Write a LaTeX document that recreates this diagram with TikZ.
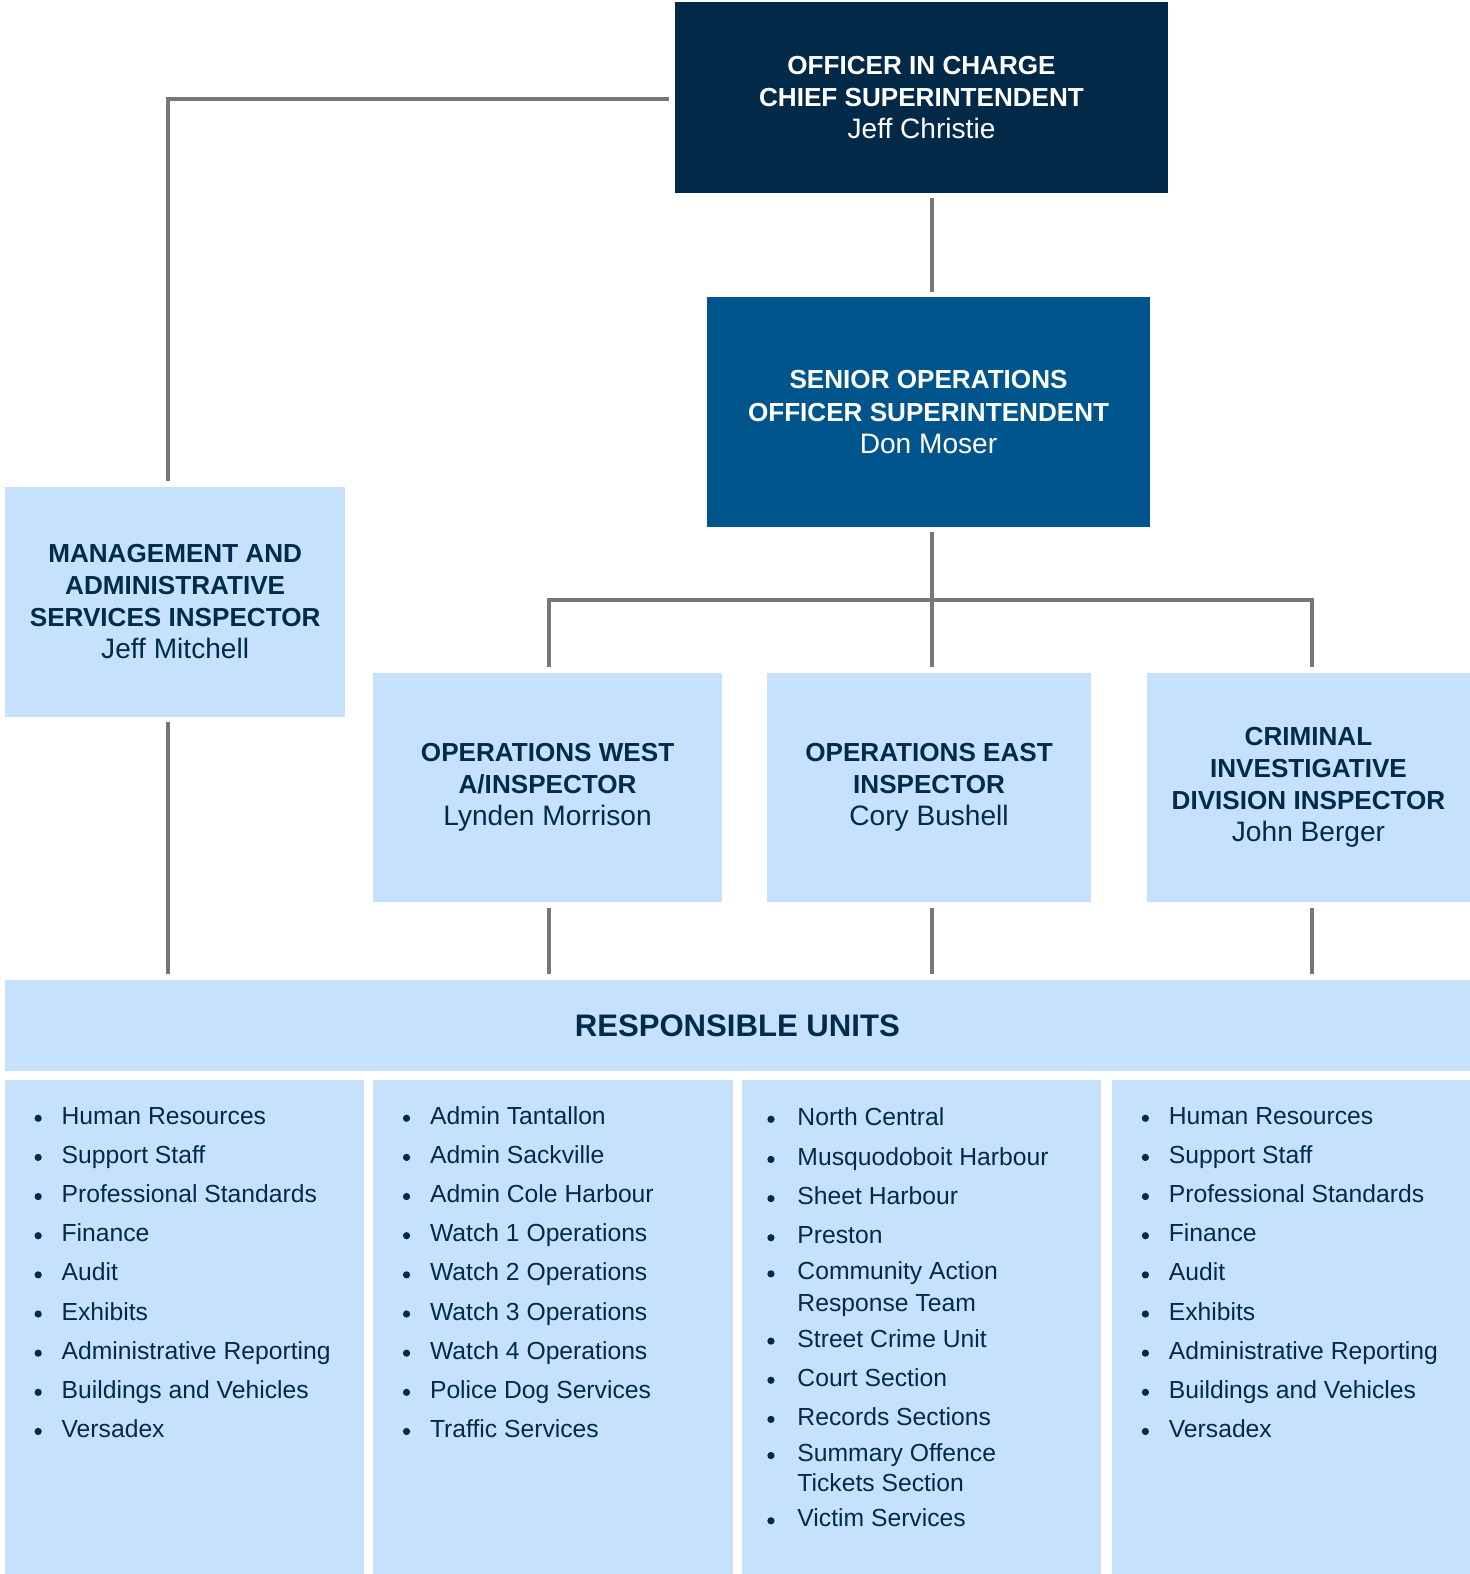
\documentclass[tikz,border=0pt]{standalone}
\usepackage{fontspec}
\setmainfont{Liberation Sans}
\usetikzlibrary{calc}
\definecolor{navy}{HTML}{022A48}
\definecolor{midblue}{HTML}{00558C}
\definecolor{light}{HTML}{C6E1FC}
\definecolor{ink}{HTML}{002B4A}
\definecolor{linegrey}{HTML}{777777}
\tikzset{
  box/.style={rectangle, inner sep=0pt, align=center, font=\fontsize{13pt}{16pt}\selectfont},
  darkbox/.style={box, fill=navy, text=white},
  bluebox/.style={box, fill=midblue, text=white},
  lightbox/.style={box, fill=light, text=ink},
  conn/.style={draw=linegrey, line width=2pt, shorten <=2.5pt, shorten >=2.5pt},
  item/.style={anchor=base west, inner sep=0pt, text=ink, font=\fontsize{12.3pt}{14pt}\selectfont},
  bul/.style={fill=ink}
}
\newcommand{\nm}[1]{{\fontsize{14pt}{16pt}\selectfont #1}}
\begin{document}
\begin{tikzpicture}[x=0.5pt,y=-0.5pt]
\useasboundingbox (0,0) rectangle (1464,1568);
% coordinates for connector columns
\coordinate (xa) at (167,0);
\coordinate (xw) at (547,0);
\coordinate (xs) at (928,0);
\coordinate (xc) at (1307,0);
\coordinate (bar) at (928,598);
% boxes
\node[darkbox, minimum width=246pt, minimum height=95pt] (top) at (918,97)
  {\textbf{OFFICER IN CHARGE}\\\textbf{CHIEF SUPERINTENDENT}\\\nm{Jeff Christie}};
\node[bluebox, minimum width=221pt, minimum height=114.5pt] (senior) at (925,410.5)
  {\textbf{SENIOR OPERATIONS}\\\textbf{OFFICER SUPERINTENDENT}\\\nm{Don Moser}};
\node[lightbox, minimum width=169.5pt, minimum height=114.5pt] (mgmt) at (174.5,599.5)
  {\textbf{MANAGEMENT AND}\\\textbf{ADMINISTRATIVE}\\\textbf{SERVICES INSPECTOR}\\\nm{Jeff Mitchell}};
\node[lightbox, minimum width=173.5pt, minimum height=114.5pt] (west) at (545.5,784.5)
  {\textbf{OPERATIONS WEST}\\\textbf{A/INSPECTOR}\\\nm{Lynden Morrison}};
\node[lightbox, minimum width=161.5pt, minimum height=114.5pt] (east) at (925.5,784.5)
  {\textbf{OPERATIONS EAST}\\\textbf{INSPECTOR}\\\nm{Cory Bushell}};
\node[lightbox, minimum width=160.5pt, minimum height=114.5pt] (cid) at (1303.5,784.5)
  {\textbf{CRIMINAL}\\\textbf{INVESTIGATIVE}\\\textbf{DIVISION INSPECTOR}\\\nm{John Berger}};
\node[lightbox, minimum width=729.5pt, minimum height=45.5pt, font=\fontsize{15.5pt}{18pt}\selectfont\bfseries] (resp) at (734.5,1021.5) {RESPONSIBLE UNITS};
\node[lightbox, minimum width=179pt, minimum height=246pt] (col1) at (184,1322) {};
\node[lightbox, minimum width=179pt, minimum height=246pt] (col2) at (551,1322) {};
\node[lightbox, minimum width=179pt, minimum height=246pt] (col3) at (918,1322) {};
\node[lightbox, minimum width=178pt, minimum height=246pt] (col4) at (1286,1322) {};
% connectors
\draw[conn] ($(top.west)+(0,2)$) -| (mgmt.north -| xa);
\draw[conn] (top.south -| xs) -- (senior.north -| xs);
\draw[conn] (senior.south -| xs) -- (east.north -| xs);
\draw[conn] (west.north -| xw) |- (bar) -| (cid.north -| xc);
\draw[conn] (mgmt.south -| xa) -- (resp.north -| xa);
\draw[conn] (west.south -| xw) -- (resp.north -| xw);
\draw[conn] (east.south -| xs) -- (resp.north -| xs);
\draw[conn] (cid.south -| xc) -- (resp.north -| xc);
% lists
\foreach \y/\t [count=\i] in {1112/Human Resources,1151/Support Staff,1190/Professional Standards,1229/Finance,1268/Audit,1307/Exhibits,1346/Administrative Reporting,1385/Buildings and Vehicles,1424/Versadex}{
  \fill[bul] (38,{\y+2}) circle (1.8pt);
  \node[item] (a\i) at (61,{\y+8}) {\t};
  \fill[bul] (1141,{\y+2}) circle (1.8pt);
  \node[item] (d\i) at (1164,{\y+8}) {\t};
}
\foreach \y/\t [count=\i] in {1112/Admin Tantallon,1151/Admin Sackville,1190/Admin Cole Harbour,1229/Watch 1 Operations,1268/Watch 2 Operations,1307/Watch 3 Operations,1346/Watch 4 Operations,1385/Police Dog Services,1424/Traffic Services}{
  \fill[bul] (405,{\y+2}) circle (1.8pt);
  \node[item] (b\i) at (428,{\y+8}) {\t};
}
\foreach \y/\t [count=\i] in {1113/North Central,1153/Musquodoboit Harbour,1192/Sheet Harbour,1231/Preston,1267/Community Action,1334/Street Crime Unit,1373/Court Section,1412/Records Sections,1448/Summary Offence,1513/Victim Services}{
  \fill[bul] (768,{\y+2}) circle (1.8pt);
  \node[item] (c\i) at (794,{\y+8}) {\t};
}
\node[item] (c5b) at (794,1306) {Response Team};
\node[item] (c9b) at (794,1486) {Tickets Section};
\end{tikzpicture}
\end{document}
